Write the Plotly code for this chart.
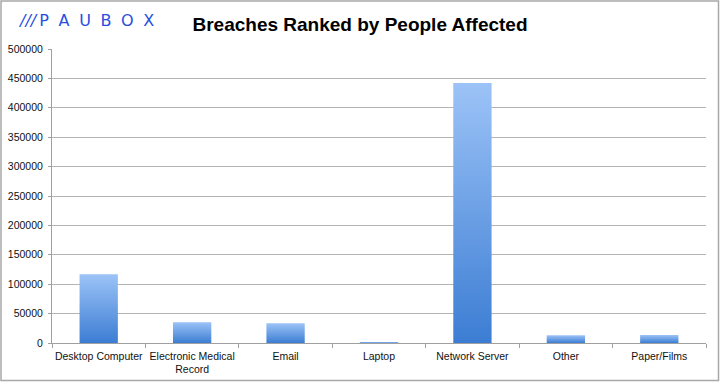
import plotly.graph_objects as go

categories = ["Desktop Computer", "Electronic Medical<br>Record", "Email", "Laptop",
              "Network Server", "Other", "Paper/Films"]
people_affected = [117000, 35500, 33500, 1500, 442000, 13000, 13500]
y_ticks = [0, 50000, 100000, 150000, 200000, 250000, 300000, 350000, 400000, 450000, 500000]

W, H = 720, 382
ML, MR, MT, MB = 52, 14, 49, 39
PW = W - ML - MR
PH = H - MT - MB

half = 0.205
fig = go.Figure()
for i, v in enumerate(people_affected):
    fig.add_trace(go.Scatter(
        x=[i - half, i + half, i + half, i - half, i - half],
        y=[0, 0, v, v, 0],
        mode="lines",
        fill="toself",
        line=dict(width=0, color="rgba(0,0,0,0)"),
        fillgradient=dict(type="vertical", start=0, stop=v,
                          colorscale=[[0, "#3c7dd3"], [1, "#9cc3f7"]]),
        hoverinfo="skip",
        showlegend=False,
        name=categories[i].replace("<br>", " "),
    ))

fig.update_layout(
    width=W, height=H,
    margin=dict(l=ML, r=MR, t=MT, b=MB, pad=0, autoexpand=False),
    paper_bgcolor="white", plot_bgcolor="white",
    font=dict(family="Liberation Sans, Arial, sans-serif", size=10.5, color="#111"),
    showlegend=False,
    title=dict(text="<b>Breaches Ranked by People Affected</b>",
               x=0.5, xref="container", xanchor="center",
               y=1 - 24 / H, yref="container", yanchor="middle",
               font=dict(family="Liberation Sans, Arial, sans-serif", size=19, color="#000")),
)

fig.update_xaxes(
    range=[-0.5, len(categories) - 0.5],
    tickmode="array",
    tickvals=list(range(len(categories))),
    ticktext=categories,
    ticks="", showgrid=False, zeroline=False, automargin=False,
    showline=True, linecolor="#a0a0a0", linewidth=1,
    tickfont=dict(size=10.5, color="#111"),
    ticklabelstandoff=3,
    minor=dict(tickmode="array",
               tickvals=[i - 0.5 for i in range(len(categories) + 1)],
               ticks="outside", ticklen=4, tickcolor="#a0a0a0", showgrid=False),
    fixedrange=True,
)
fig.update_yaxes(
    range=[0, 500000],
    tickmode="array", tickvals=y_ticks, ticktext=[str(t) for t in y_ticks],
    ticks="outside", ticklen=3, tickcolor="#a0a0a0",
    showgrid=True, gridcolor="#b4b4b4", gridwidth=1,
    zeroline=False, automargin=False,
    showline=True, linecolor="#a0a0a0", linewidth=1,
    tickfont=dict(size=10.5, color="#111"),
    ticklabelstandoff=3,
    fixedrange=True,
)

# Logo
sp = "\u2002\u200a"
fig.add_annotation(
    text="<i>///</i>\u2009" + sp.join("PAUBOX"),
    xref="paper", yref="paper",
    x=(16 - ML) / PW, y=1 + (MT - 21) / PH,
    xanchor="left", yanchor="middle", showarrow=False,
    font=dict(family="DejaVu Sans, sans-serif", size=16, color="#2a4fe0"),
)

# Outer border
fig.add_shape(
    type="rect", xref="paper", yref="paper",
    x0=-(ML - 1) / PW, x1=1 + (MR - 1.5) / PW,
    y0=-(MB - 1.5) / PH, y1=1 + (MT - 1) / PH,
    line=dict(color="#a8a8a8", width=1.5), fillcolor="rgba(0,0,0,0)",
    layer="below",
)

fig.write_html("out.html", config={"displayModeBar": False},
               post_script="document.body.style.margin='0';")
